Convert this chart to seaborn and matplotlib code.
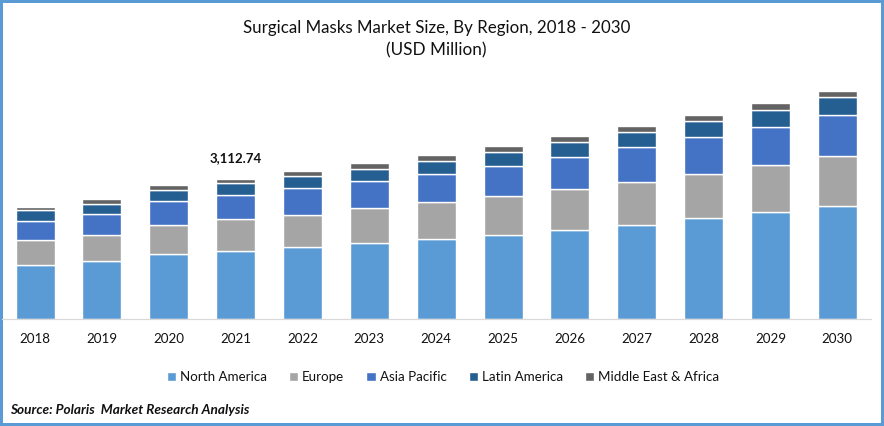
import numpy as np
import pandas as pd
import matplotlib.pyplot as plt
import seaborn as sns

years = [2018, 2019, 2020, 2021, 2022, 2023, 2024, 2025, 2026, 2027, 2028, 2029, 2030]
north_america = [1209, 1299, 1455, 1523, 1612, 1702, 1791, 1881, 1993, 2105, 2239, 2373, 2508]
europe = [560, 582, 649, 694, 716, 761, 806, 851, 896, 940, 985, 1052, 1120]
asia_pacific = [425, 448, 515, 537, 582, 605, 627, 672, 716, 784, 828, 851, 918]
latin_america = [224, 224, 246, 269, 269, 269, 291, 313, 336, 336, 358, 381, 403]
mea = [67, 112, 112, 90, 112, 134, 134, 134, 134, 134, 134, 157, 134]

regions = ["North America", "Europe", "Asia Pacific", "Latin America", "Middle East & Africa"]
colors = ["#5B9BD5", "#A5A5A5", "#4472C4", "#255E91", "#636363"]

df = pd.DataFrame({"Year": years, regions[0]: north_america, regions[1]: europe,
                   regions[2]: asia_pacific, regions[3]: latin_america, regions[4]: mea})

sns.set_style("white")
plt.rcParams["font.family"] = ["Lato", "DejaVu Sans"]

W, H = 884, 426
fig = plt.figure(figsize=(W / 100, H / 100), dpi=100, facecolor="white",
                 edgecolor="#5B9BD5", linewidth=4.3)
# axes spans the x axis line and sits on the baseline
ax = fig.add_axes([1.7 / W, (H - 318.9) / H, 869 / W, 269 / H])

bottom = np.zeros(len(years))
for region, color in zip(regions, colors):
    sns.barplot(data=df, x="Year", y=region, color=color, saturation=1, width=0.584,
                bottom=bottom, label=region, ax=ax, legend=False)
    bottom = bottom + df[region].values

ax.set_xlim(-0.5, 12.5)
ax.set_ylim(0, 269 * 22.3)
ax.set_xlabel("")
ax.set_ylabel("")
ax.set_yticks([])
ax.patch.set_alpha(0)
for side in ["top", "left", "right"]:
    ax.spines[side].set_visible(False)
ax.spines["bottom"].set_color("#D9D9D9")
ax.spines["bottom"].set_linewidth(0.9)
ax.tick_params(axis="x", length=0, pad=10, labelsize=9.6, labelcolor="#111111")

ax.text(3, 3112.74 + 340, "3,112.74", ha="center", va="bottom", fontsize=9.5,
        fontweight="bold", color="#111111")

fig.text(436.5 / W, 1 - 27.5 / H, "Surgical Masks Market Size, By Region, 2018 - 2030",
         ha="center", va="center", fontsize=12.2, color="#111111")
fig.text(436 / W, 1 - 50.5 / H, "(USD Million)", ha="center", va="center",
         fontsize=12.3, color="#111111")

ax.legend(loc="center", bbox_to_anchor=(443 / W, 1 - 377 / H), bbox_transform=fig.transFigure,
          ncol=5, frameon=False, fontsize=9.6, handlelength=0.7, handleheight=0.7,
          handletextpad=0.3, columnspacing=1.65, labelcolor="#111111")

fig.text(10 / W, 1 - 410.5 / H, "Source: Polaris  Market Research Analysis", ha="left", va="center",
         fontsize=9.8, fontweight="bold", fontstyle="italic", color="#111111")

fig.savefig("out.png", dpi=100, facecolor="white", edgecolor=fig.get_edgecolor())
